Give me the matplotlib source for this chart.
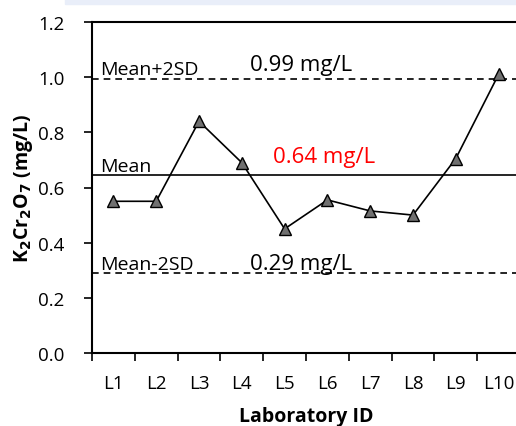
import matplotlib
matplotlib.use("Agg")
import matplotlib.pyplot as plt
import numpy as np
from matplotlib.patches import Rectangle

labs = ["L1", "L2", "L3", "L4", "L5", "L6", "L7", "L8", "L9", "L10"]
vals = [0.55, 0.55, 0.84, 0.69, 0.45, 0.555, 0.515, 0.50, 0.705, 1.01]
mean_v = 0.645
upper_v = 0.993
lower_v = 0.29

plt.rcParams['font.family'] = ['Open Sans', 'DejaVu Sans']

fig = plt.figure(figsize=(5.16, 4.27), dpi=100)
fig.patches.append(Rectangle((65/516, 1-5/427), 1, 5/427, transform=fig.transFigure,
                             color='#e9eef9', zorder=0))
ax = fig.add_axes([92/516, 1-354/427, (520-92)/516, (354-23)/427])
x = np.arange(len(labs))
ax.plot(x, vals, color='black', lw=1.2, marker='^', ms=9, mfc='#707070', mec='black', mew=1, zorder=3)
ax.axhline(mean_v, color='black', lw=1.2)
ax.axhline(upper_v, color='black', lw=1.2, ls=(0, (4, 3)))
ax.axhline(lower_v, color='black', lw=1.2, ls=(0, (4, 3)))

ax.set_xlim(-0.5, 9.5)
ax.set_ylim(0, 1.2)
ax.set_yticks(np.arange(0, 1.21, 0.2))
ax.set_yticklabels([f"{v:.1f}" for v in np.arange(0, 1.21, 0.2)], fontsize=13.5)
ax.set_xticks(np.arange(-0.5, 9.6, 1))
ax.set_xticklabels([])
ax.set_xticks(x, minor=True)
ax.set_xticklabels(labs, minor=True, fontsize=13.5)
ax.tick_params(axis='x', which='minor', length=0, pad=15)
ax.tick_params(axis='both', which='major', direction='out', length=6, width=1.2)
ax.tick_params(axis='y', pad=14)
for s in ['left', 'top', 'bottom', 'right']:
    ax.spines[s].set_linewidth(1.5)
ax.spines['right'].set_visible(False)

ax.set_ylabel("K$_\\mathbf{2}$Cr$_\\mathbf{2}$O$_\\mathbf{7}$ (mg/L)", fontsize=14, fontweight='bold', labelpad=2)
ax.set_xlabel("Laboratory ID", fontsize=14, fontweight='bold', labelpad=10)

ax.text(-0.31, 1.012, "Mean+2SD", fontsize=14, va='baseline', ha='left')
ax.text(4.38, 1.025, "0.99 mg/L", fontsize=16, va='baseline', ha='center')
ax.text(-0.31, 0.66, "Mean", fontsize=14, va='baseline', ha='left')
ax.text(4.92, 0.693, "0.64 mg/L", fontsize=16, va='baseline', ha='center', color='#ff0000')
ax.text(-0.31, 0.305, "Mean-2SD", fontsize=14, va='baseline', ha='left')
ax.text(4.38, 0.305, "0.29 mg/L", fontsize=16, va='baseline', ha='center')

fig.savefig("out.png", dpi=100)
